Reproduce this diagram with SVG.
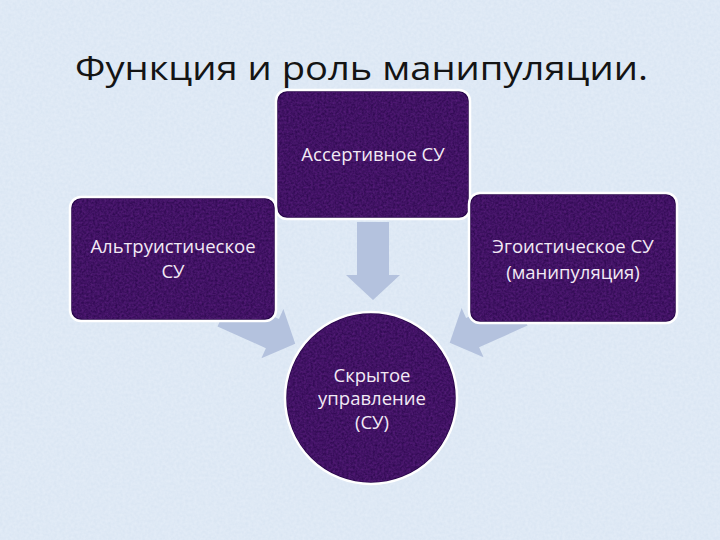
<svg xmlns="http://www.w3.org/2000/svg" width="720" height="540" viewBox="0 0 720 540">
<defs>
<filter id="bgtex" x="0" y="0" width="100%" height="100%">
<feTurbulence type="fractalNoise" baseFrequency="0.35" numOctaves="2" seed="3" result="n"/>
<feColorMatrix in="n" type="matrix" values="0 0 0 0 0.84  0 0 0 0 0.90  0 0 0 0 0.97  0 0 0 0.6 0" result="c"/>
<feComposite in="c" in2="SourceGraphic" operator="in"/>
</filter>
<filter id="ntex" x="0" y="0" width="100%" height="100%">
<feTurbulence type="fractalNoise" baseFrequency="0.45" numOctaves="2" seed="7" result="n"/>
<feColorMatrix in="n" type="matrix" values="0 0 0 0 0.20  0 0 0 0 0.03  0 0 0 0 0.36  0 0 0 0.6 0" result="c"/>
<feComposite in="c" in2="SourceGraphic" operator="in"/>
</filter>
<path id="arr" d="M0,-16 L53,-16 L53,-27 L78,0 L53,27 L53,16 L0,16 Z"/>
</defs>
<style>
.node{fill:#28064a;stroke:#ffffff;stroke-width:2.5}
.tex{fill:#28064a;filter:url(#ntex)}
.lbl{font-family:"Open Sans","Liberation Sans",sans-serif;font-size:18.5px;fill:#f3eaf5;text-anchor:middle}
.arrow{fill:#b4c2de}
.title{font-family:"Open Sans","Liberation Sans",sans-serif;font-size:33px;fill:#141414}
</style>
<rect width="720" height="540" fill="#d8e4f2"/>
<rect width="720" height="540" fill="#d8e4f2" filter="url(#bgtex)"/>
<text class="title" x="75" y="80" textLength="573" lengthAdjust="spacingAndGlyphs">Функция и роль манипуляции.</text>
<g id="connectors">
<use href="#arr" class="arrow" transform="translate(373,222) rotate(90)"/>
<use href="#arr" class="arrow" transform="translate(224,312) rotate(24)"/>
<use href="#arr" class="arrow" transform="translate(521,311) rotate(156)"/>
</g>
<g id="node-top">
<rect class="node" x="276" y="90" width="194" height="129" rx="11"/>
<rect class="tex" x="278" y="92" width="190" height="125" rx="10"/>
<text class="lbl" x="373" y="161">Ассертивное СУ</text>
</g>
<g id="node-left">
<rect class="node" x="70" y="197" width="206" height="124" rx="11"/>
<rect class="tex" x="72" y="199" width="202" height="120" rx="10"/>
<text class="lbl" x="173" y="253">Альтруистическое</text>
<text class="lbl" x="173" y="278">СУ</text>
</g>
<g id="node-right">
<rect class="node" x="469" y="193" width="208" height="130" rx="11"/>
<rect class="tex" x="471" y="195" width="204" height="126" rx="10"/>
<text class="lbl" x="573" y="253">Эгоистическое СУ</text>
<text class="lbl" x="573" y="279">(манипуляция)</text>
</g>
<g id="node-center">
<circle class="node" cx="371" cy="398" r="86"/>
<circle class="tex" cx="371" cy="398" r="84"/>
<text class="lbl" x="372" y="382">Скрытое</text>
<text class="lbl" x="372" y="405">управление</text>
<text class="lbl" x="372" y="429">(СУ)</text>
</g>
</svg>
